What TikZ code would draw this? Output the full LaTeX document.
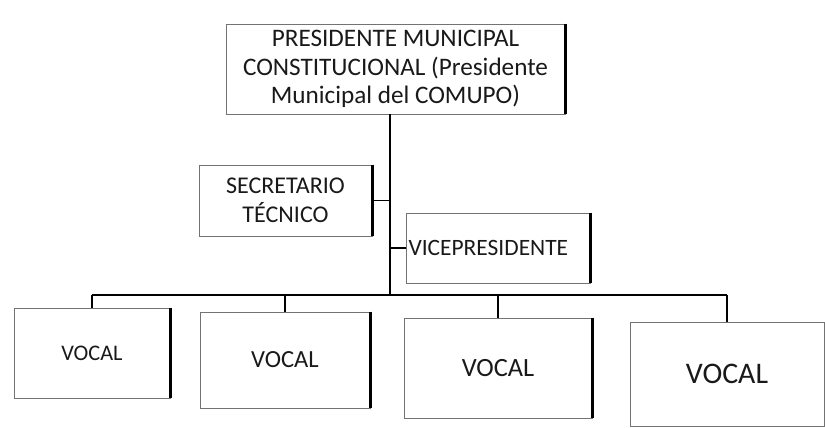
\documentclass[tikz,border=0pt]{standalone}
\usepackage{fontspec}
\setmainfont{Carlito}
\usepackage{tikz}
\usetikzlibrary{positioning}

\begin{document}
\begin{tikzpicture}[
    x=0.03cm, y=-0.03cm,
    block/.style={rectangle, draw=black!55, line width=0.6pt, inner sep=0pt, text=black!90, text centered, align=center},
    rim/.style={line width=2.4pt, black},
    line/.style={line width=1.6pt, black}
]
\useasboundingbox (0,0) rectangle (825,428);
% Blocks
\node (pres) [block, minimum width=10.17cm, minimum height=2.7cm, font=\fontsize{21.5}{24.5}\selectfont] at (395.5,69)
    {PRESIDENTE MUNICIPAL\\ CONSTITUCIONAL (Presidente\\ Municipal del COMUPO)};
\node (sec) [block, minimum width=5.19cm, minimum height=2.13cm, font=\fontsize{20.5}{25}\selectfont] at (285.5,200.5)
    {SECRETARIO\\ TÉCNICO};
\node (vice) [block, text width=5.4cm, inner xsep=1.5pt, minimum height=2.1cm, align=left, font=\fontsize{20}{24}\selectfont] at (498.5,248)
    {VICEPRESIDENTE};
\node (v1) [block, minimum width=4.68cm, minimum height=2.7cm, font=\fontsize{19}{22}\selectfont] at (92,353) {VOCAL};
\node (v2) [block, minimum width=5.1cm, minimum height=2.88cm, font=\fontsize{21}{24}\selectfont] at (285,360) {VOCAL};
\node (v3) [block, minimum width=5.64cm, minimum height=3.0cm, font=\fontsize{22.5}{26}\selectfont] at (498,368) {VOCAL};
\node (v4) [block, minimum width=5.82cm, minimum height=3.12cm, font=\fontsize{25.5}{30}\selectfont] at (727,374) {VOCAL};
% Dark right edges
\draw [rim] (pres.north east) -- (pres.south east);
\draw [rim] (sec.north east) -- (sec.south east);
\draw [rim] (vice.north east) -- (vice.south east);
\draw [rim] (v1.north east) -- (v1.south east);
\draw [rim] (v2.north east) -- (v2.south east);
\draw [rim] (v3.north east) -- (v3.south east);
% Lines
\coordinate (hub) at (390,295);
\draw [line] (pres.south -| hub) -- (hub);
\draw [line] (sec.east) -- (sec.east -| hub);
\draw [line] (vice.west) -- (vice.west -| hub);
\draw [line] (v1.north |- hub) -- (v4.north |- hub);
\draw [line] (v1.north) -- (v1.north |- hub);
\draw [line] (v2.north) -- (v2.north |- hub);
\draw [line] (v3.north) -- (v3.north |- hub);
\draw [line] (v4.north) -- (v4.north |- hub);
\end{tikzpicture}
\end{document}
